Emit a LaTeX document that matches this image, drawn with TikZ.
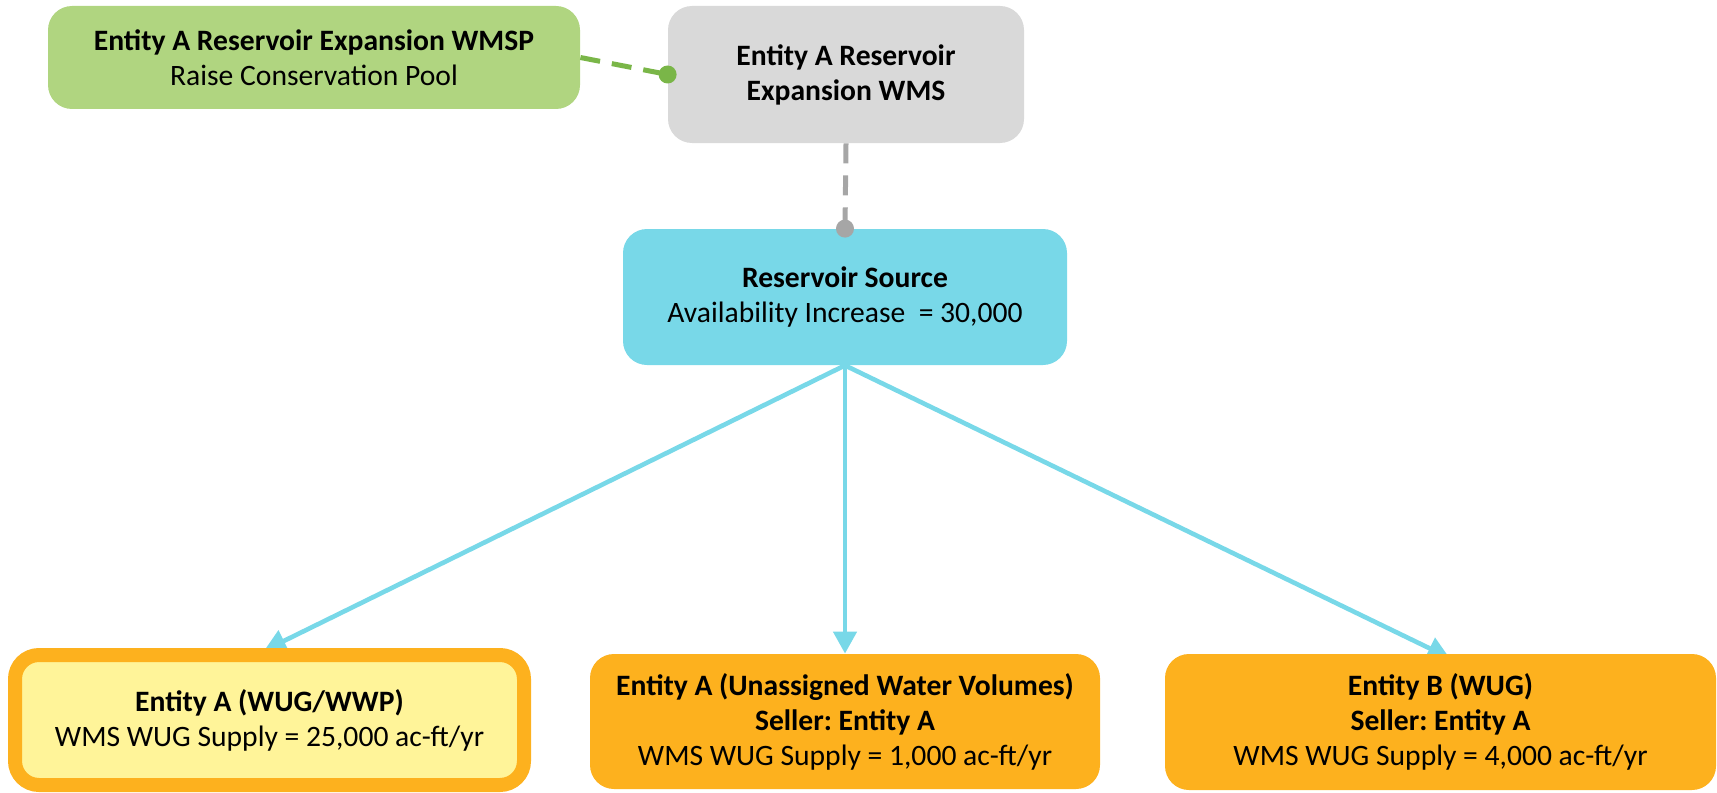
\documentclass[tikz,border=0pt]{standalone}
\usepackage{fontspec}
\setmainfont{Carlito}
\frenchspacing
\usetikzlibrary{arrows.meta,backgrounds}

\definecolor{wmspgreen}{RGB}{176,213,128}
\definecolor{linkgreen}{RGB}{122,182,72}
\definecolor{wmsgrey}{RGB}{217,217,217}
\definecolor{linkgrey}{RGB}{166,166,166}
\definecolor{srccyan}{RGB}{120,216,232}
\definecolor{wugorange}{RGB}{253,177,30}
\definecolor{wugyellow}{RGB}{255,244,153}

\tikzset{
  box/.style={rounded corners=12pt, align=center, inner sep=0pt,
    font=\fontsize{14.8pt}{17.5pt}\selectfont},
  wmspbox/.style={box, fill=wmspgreen, minimum width=266pt, minimum height=51.5pt},
  wmsbox/.style={box, fill=wmsgrey, minimum width=178pt, minimum height=68.5pt},
  srcbox/.style={box, fill=srccyan, minimum width=222pt, minimum height=68pt},
  wugbox/.style={box, fill=wugorange, minimum height=67.5pt},
  link/.style={line width=2.5pt, dash pattern=on 10pt off 6pt},
  flow/.style={srccyan, line width=2.3pt, -{Triangle[width=11.5pt,length=11pt]}}
}

\begin{document}
\begin{tikzpicture}[x=0.5pt, y=-0.5pt]
  \useasboundingbox (0,0) rectangle (1717,792);

  % strategy and project
  \node[wmspbox] (wmsp) at (314,57.5) {\textbf{Entity A Reservoir Expansion WMSP}\\Raise Conservation Pool};
  \node[wmsbox] (wms) at (846,74.5) {\textbf{Entity A Reservoir}\\\textbf{Expansion WMS}};
  \node[srcbox] (src) at (845,297) {\textbf{Reservoir Source}\\Availability Increase\ \ = 30,000};

  % users
  \node[wugbox, fill=wugyellow, draw=wugorange, line width=7pt, minimum width=254.5pt, minimum height=65pt] (wugA) at (269.5,720)
    {\textbf{Entity A (WUG/WWP)}\\WMS WUG Supply = 25,000 ac-ft/yr};
  \node[wugbox, minimum width=255pt] (unas) at (845,721.5)
    {\textbf{Entity A (Unassigned Water Volumes)}\\\textbf{Seller: Entity A}\\WMS WUG Supply = 1,000 ac-ft/yr};
  \node[wugbox, minimum width=275.5pt, minimum height=68pt] (wugB) at (1440.5,722)
    {\textbf{Entity B (WUG)}\\\textbf{Seller: Entity A}\\WMS WUG Supply = 4,000 ac-ft/yr};

  \draw[link, linkgreen] (wmsp.east) -- (wms.west);
  \fill[linkgreen] (wms.west) circle (4.5pt);
  \draw[link, linkgrey] (wms.south) -- (src.north);
  \fill[linkgrey] (src.north) circle (4.5pt);

  \begin{pgfonlayer}{background}
    \draw[flow, shorten >=-3pt] (src.south) -- (wugA.north);
    \draw[flow] (src.south) -- (unas.north);
    \draw[flow, shorten >=-5pt] (src.south) -- (wugB.north);
  \end{pgfonlayer}
\end{tikzpicture}
\end{document}
